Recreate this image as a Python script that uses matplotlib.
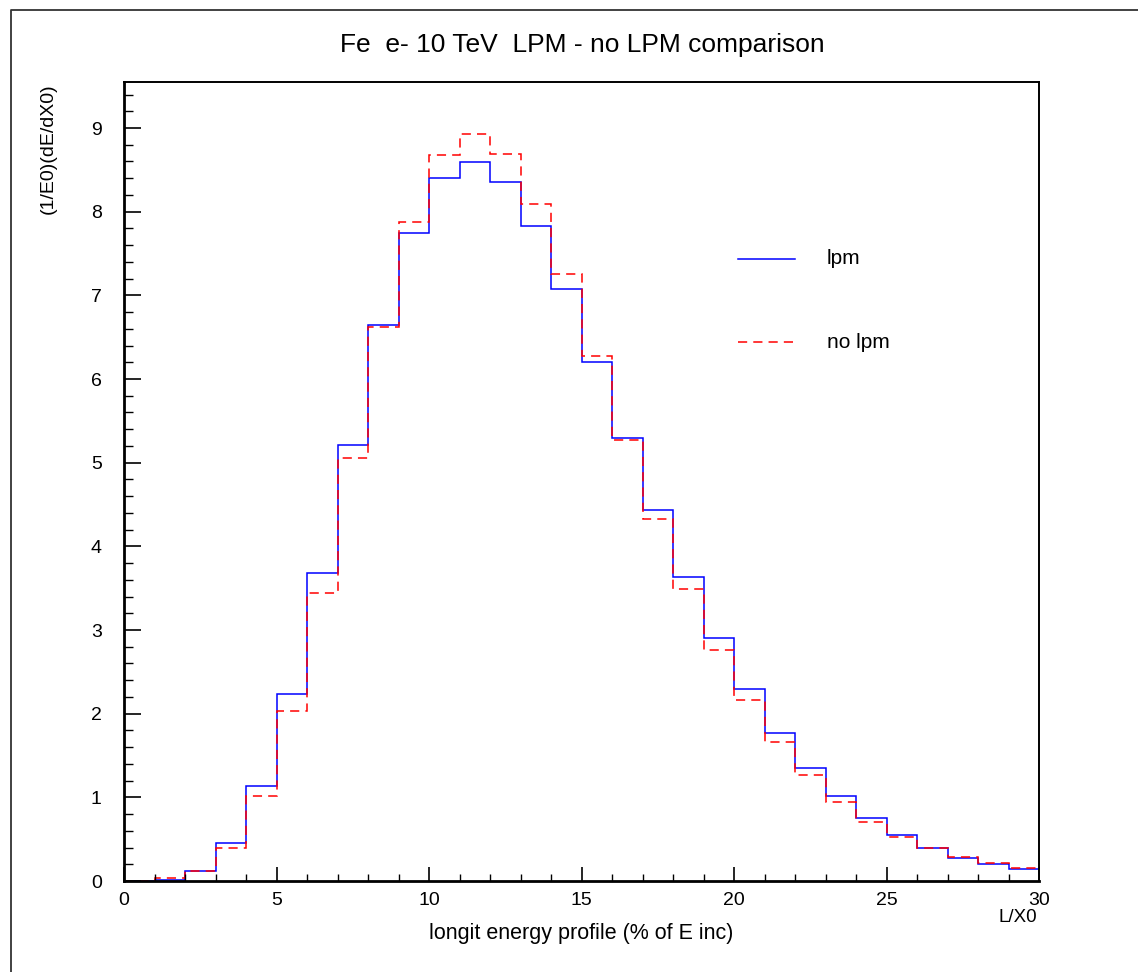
import numpy as np
import matplotlib
matplotlib.use("Agg")
import matplotlib.pyplot as plt
from matplotlib.ticker import MultipleLocator
from matplotlib.lines import Line2D

plt.rcParams['font.family'] = ['Liberation Sans', 'DejaVu Sans']

# bin edges in L/X0 and contents of the two histograms
edges = np.arange(0, 31, 1)
lpm = [0.0, 0.015, 0.12, 0.46, 1.14, 2.24, 3.68, 5.21, 6.64, 7.75,
       8.40, 8.59, 8.35, 7.83, 7.08, 6.20, 5.30, 4.43, 3.63, 2.91,
       2.29, 1.77, 1.35, 1.02, 0.75, 0.55, 0.40, 0.28, 0.20, 0.14]
no_lpm = [0.0, 0.03, 0.115, 0.40, 1.01, 2.03, 3.44, 5.06, 6.62, 7.88,
          8.68, 8.93, 8.69, 8.09, 7.25, 6.28, 5.27, 4.33, 3.49, 2.76,
          2.16, 1.66, 1.27, 0.95, 0.71, 0.53, 0.39, 0.29, 0.21, 0.15]

W, H = 1138, 972
fig = plt.figure(figsize=(W / 100, H / 100), dpi=100)
ax = fig.add_axes([124 / W, 1 - 881 / H, (1039 - 124) / W, (881 - 82) / H])

ax.stairs(lpm, edges, color='blue', lw=1.1, baseline=None)
ax.stairs(no_lpm, edges, color='red', lw=1.1, ls=(0, (6, 4)), baseline=None)

ax.set_xlim(0, 30)
ax.set_ylim(0, 9.55)

ax.xaxis.set_major_locator(MultipleLocator(5))
ax.xaxis.set_minor_locator(MultipleLocator(1))
ax.yaxis.set_major_locator(MultipleLocator(1))
ax.yaxis.set_minor_locator(MultipleLocator(0.2))
ax.tick_params(axis='x', which='major', direction='in', length=10, width=1.2, labelsize=14, pad=8)
ax.tick_params(axis='x', which='minor', direction='in', length=5, width=1)
ax.tick_params(axis='y', which='major', direction='in', length=12, width=1.2, labelsize=14, pad=16)
ax.tick_params(axis='y', which='minor', direction='in', length=6.5, width=1)
ax.tick_params(top=False, right=False)

for s in ['left', 'bottom']:
    ax.spines[s].set_linewidth(2)
for s in ['top', 'right']:
    ax.spines[s].set_linewidth(1.4)

# legend drawn by hand like the original
ax.plot([20.13, 22.0], [7.44, 7.44], color='blue', lw=1.1)
ax.text(23.05, 7.44, 'lpm', fontsize=15, va='center')
ax.plot([20.13, 22.0], [6.44, 6.44], color='red', lw=1.1, ls=(0, (6, 4)))
ax.text(23.05, 6.44, 'no lpm', fontsize=15, va='center')

fig.text(582 / W, 1 - 45 / H, 'Fe  e- 10 TeV  LPM - no LPM comparison',
         fontsize=19, ha='center', va='center')
fig.text(581 / W, 1 - 933 / H, 'longit energy profile (% of E inc)',
         fontsize=15.5, ha='center', va='center')
fig.text(1037 / W, 1 - 917 / H, 'L/X0', fontsize=13.5, ha='right', va='center')
fig.text(48 / W, 1 - 83 / H, '(1/E0)(dE/dX0)', fontsize=14, rotation=90,
         ha='center', va='top')

# outer pad frame
fig.add_artist(Line2D([11 / W, 11 / W, 1.0], [0.0, 1 - 10 / H, 1 - 10 / H],
                      color='#333333', lw=1.3, transform=fig.transFigure))

fig.savefig('out.png', dpi=100)
